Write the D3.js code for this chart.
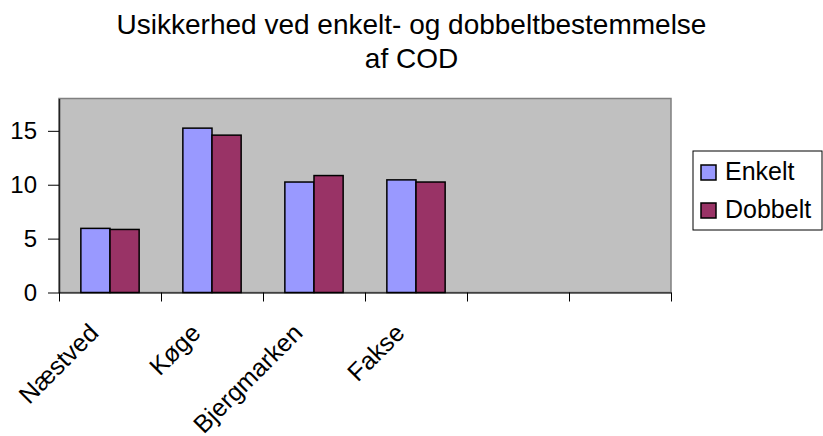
<!DOCTYPE html>
<html>
<head>
<meta charset="utf-8">
<script src="https://cdn.jsdelivr.net/npm/d3@7"></script>
<style>
    body { margin: 0; background: #fff; }
    text { font-family: "Liberation Sans", Arial, sans-serif; fill: #000; }
</style>
</head>
<body>
<script>
// chart data
const categories = ['Næstved', 'Køge', 'Bjergmarken', 'Fakse', '', ''];
const seriesNames = ['Enkelt', 'Dobbelt'];
const enkelt = [5.95, 15.25, 10.25, 10.45];
const dobbelt = [5.85, 14.6, 10.85, 10.25];
const yTicks = [0, 5, 10, 15];
const titleLines = ['Usikkerhed ved enkelt- og dobbeltbestemmelse', 'af COD'];
const colors = ['#9999ff', '#993366'];

const width = 823, height = 436;
const plot = {left: 59, right: 671, top: 98.5, bottom: 292.5};

const svg = d3.select('body').append('svg')
    .attr('width', width)
    .attr('height', height);

// scales
const x = d3.scaleBand()
    .domain(d3.range(categories.length))
    .range([plot.left, plot.right]);
const xSeries = d3.scaleBand()
    .domain(seriesNames)
    .range([0, x.bandwidth()])
    .paddingOuter(0.75);
const xEdge = d3.scaleLinear()
    .domain([0, categories.length])
    .range([plot.left, plot.right]);
const y = d3.scaleLinear()
    .domain([0, 18])
    .range([plot.bottom, plot.top]);

// plot area background
svg.append('rect')
    .attr('x', plot.left)
    .attr('y', plot.top)
    .attr('width', plot.right - plot.left)
    .attr('height', plot.bottom - plot.top)
    .attr('fill', '#c0c0c0')
    .attr('stroke', '#808080')
    .attr('stroke-width', 1.5);

// bars
const values = [enkelt, dobbelt];
seriesNames.forEach((name, s) => {
    svg.append('g').selectAll('rect')
        .data(values[s])
        .join('rect')
        .attr('x', (d, i) => x(i) + xSeries(name))
        .attr('y', d => y(d))
        .attr('width', xSeries.bandwidth())
        .attr('height', d => y(0) - y(d))
        .attr('fill', colors[s])
        .attr('stroke', '#000')
        .attr('stroke-width', 1.5);
});

// y axis
const yAxis = svg.append('g')
    .attr('transform', `translate(${plot.left},0)`)
    .call(d3.axisLeft(y).tickValues(yTicks).tickSize(11).tickSizeOuter(0).tickPadding(11));
yAxis.select('.domain').attr('stroke', '#222').attr('stroke-width', 1.5);
yAxis.selectAll('.tick line').attr('stroke', '#000');
yAxis.selectAll('.tick text')
    .style('font-family', '"Liberation Sans", Arial, sans-serif')
    .style('font-size', '24px')
    .attr('fill', '#000');

// x axis (ticks between categories)
const xAxis = svg.append('g')
    .attr('transform', `translate(0,${plot.bottom})`)
    .call(d3.axisBottom(xEdge).tickValues(d3.range(categories.length + 1))
        .tickFormat('').tickSize(9).tickSizeOuter(0));
xAxis.select('.domain').attr('stroke', '#000').attr('stroke-width', 1.2);
xAxis.selectAll('.tick line').attr('stroke', '#000');

// rotated category labels
svg.append('g').selectAll('text')
    .data(categories)
    .join('text')
    .attr('transform', (d, i) => `translate(${x(i) + x.bandwidth() / 2 - 10},${plot.bottom + 42}) rotate(-45)`)
    .attr('text-anchor', 'end')
    .style('font-size', '25px')
    .text(d => d);

// title
svg.append('g').selectAll('text')
    .data(titleLines)
    .join('text')
    .attr('x', width / 2)
    .attr('y', (d, i) => 34 + i * 34)
    .attr('text-anchor', 'middle')
    .style('font-size', '28px')
    .text(d => d);

// legend
const legend = svg.append('g');
legend.append('rect')
    .attr('x', 693)
    .attr('y', 151)
    .attr('width', 129)
    .attr('height', 79)
    .attr('fill', '#fff')
    .attr('stroke', '#000')
    .attr('stroke-width', 1);
const items = legend.selectAll('g')
    .data(seriesNames)
    .join('g')
    .attr('transform', (d, i) => `translate(701,${180 + i * 38})`);
items.append('rect')
    .attr('x', 0)
    .attr('y', -15)
    .attr('width', 15)
    .attr('height', 15)
    .attr('fill', (d, i) => colors[i])
    .attr('stroke', '#000')
    .attr('stroke-width', 1.5);
items.append('text')
    .attr('x', 24)
    .attr('y', 0)
    .style('font-size', '25px')
    .text(d => d);
</script>
</body>
</html>
